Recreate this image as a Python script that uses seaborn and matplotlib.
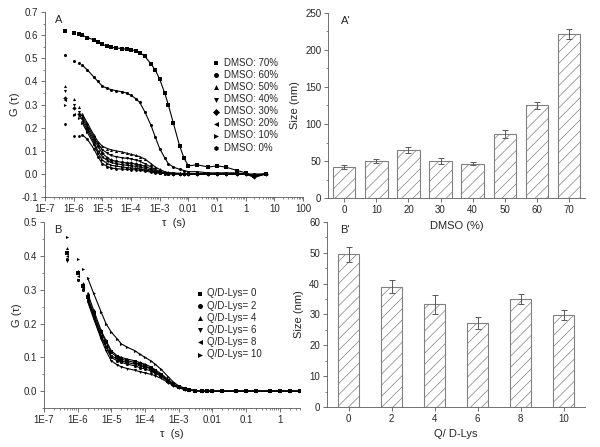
import numpy as np
import pandas as pd
import seaborn as sns
import matplotlib
matplotlib.use("Agg")
import matplotlib.pyplot as plt
from matplotlib.ticker import FixedLocator, LogLocator, MultipleLocator, NullFormatter

# ---- data ----
tau_a = [5e-7, 1e-6, 1.5e-6, 2e-6, 3e-6, 5e-6, 7e-6, 1e-5, 1.5e-5, 2e-5, 3e-5, 5e-5, 7e-5,
         1e-4, 1.5e-4, 2e-4, 3e-4, 5e-4, 7e-4, 1e-3, 1.5e-3, 2e-3, 3e-3, 5e-3, 7e-3,
         1e-2, 2e-2, 5e-2, 0.1, 0.2, 0.5, 1, 2, 5]

dmso_labels = ["DMSO: 70%", "DMSO: 60%", "DMSO: 50%", "DMSO: 40%",
               "DMSO: 30%", "DMSO: 20%", "DMSO: 10%", "DMSO: 0%"]
g_70 = [0.62, 0.61, 0.605, 0.60, 0.59, 0.58, 0.57, 0.56, 0.552, 0.548, 0.545, 0.542, 0.54,
        0.537, 0.532, 0.525, 0.51, 0.475, 0.45, 0.41, 0.35, 0.30, 0.22, 0.12, 0.07,
        0.035, 0.04, 0.03, 0.035, 0.03, 0.015, 0.005, -0.01, 0.0]
g_60 = [0.515, 0.49, 0.48, 0.47, 0.45, 0.42, 0.40, 0.38, 0.37, 0.365, 0.36, 0.355, 0.35,
        0.34, 0.325, 0.31, 0.27, 0.21, 0.16, 0.11, 0.07, 0.045, 0.03, 0.02, 0.015,
        0.01, 0.01, 0.005, 0.005, 0.005, 0.005, 0.0, 0.0, 0.0]
g_50 = [0.38, 0.325, 0.29, 0.26, 0.22, 0.17, 0.14, 0.12, 0.11, 0.105, 0.10, 0.095, 0.09,
        0.085, 0.08, 0.075, 0.065, 0.045, 0.03, 0.02, 0.01, 0.006, 0.004, 0.003, 0.002,
        0.002, 0.002, 0.001, 0.001, 0.0, 0.0, 0.0, -0.008, 0.0]
g_40 = [0.36, 0.30, 0.27, 0.25, 0.21, 0.16, 0.13, 0.105, 0.09, 0.08, 0.075, 0.07, 0.068,
        0.065, 0.06, 0.055, 0.045, 0.03, 0.02, 0.012, 0.006, 0.004, 0.003, 0.002, 0.001,
        0.001, 0.001, 0.0, 0.0, 0.0, 0.0, 0.0, -0.01, 0.0]
g_30 = [0.33, 0.285, 0.26, 0.24, 0.20, 0.15, 0.12, 0.09, 0.07, 0.06, 0.055, 0.05, 0.048,
        0.046, 0.043, 0.04, 0.034, 0.022, 0.014, 0.008, 0.004, 0.003, 0.002, 0.001, 0.001,
        0.0, 0.0, 0.0, 0.0, 0.0, 0.0, 0.0, -0.015, 0.0]
g_20 = [0.32, 0.26, 0.25, 0.23, 0.19, 0.14, 0.10, 0.075, 0.058, 0.05, 0.045, 0.04, 0.038,
        0.036, 0.033, 0.03, 0.025, 0.016, 0.01, 0.006, 0.003, 0.002, 0.001, 0.001, 0.0,
        0.0, 0.0, 0.0, 0.0, 0.0, 0.0, 0.0, -0.01, 0.0]
g_10 = [0.30, 0.255, 0.24, 0.22, 0.18, 0.13, 0.09, 0.06, 0.045, 0.038, 0.034, 0.03, 0.028,
        0.026, 0.024, 0.022, 0.018, 0.012, 0.007, 0.004, 0.002, 0.001, 0.001, 0.0, 0.0,
        0.0, 0.0, 0.0, 0.0, 0.0, 0.0, 0.0, -0.005, 0.0]
g_0 = [0.215, 0.165, 0.165, 0.17, 0.15, 0.11, 0.075, 0.045, 0.032, 0.026, 0.023, 0.021, 0.02,
       0.019, 0.018, 0.016, 0.013, 0.008, 0.005, 0.003, 0.002, 0.001, 0.0, 0.0, 0.0,
       0.0, 0.0, 0.0, 0.0, 0.0, 0.0, 0.0, -0.005, 0.0]
dmso_curves = [g_70, g_60, g_50, g_40, g_30, g_20, g_10, g_0]
dmso_markers = ["s", "o", "^", "v", "D", "<", ">", "h"]

tau_b = [5e-7, 1e-6, 1.5e-6, 2e-6, 3e-6, 5e-6, 7e-6, 1e-5, 1.5e-5, 2e-5, 3e-5, 5e-5, 7e-5,
         1e-4, 1.5e-4, 2e-4, 3e-4, 5e-4, 7e-4, 1e-3, 1.5e-3, 2e-3, 3e-3, 5e-3, 7e-3,
         1e-2, 2e-2, 5e-2, 0.1, 0.2, 0.5, 1, 2, 4]
lys_labels = ["Q/D-Lys= 0", "Q/D-Lys= 2", "Q/D-Lys= 4",
              "Q/D-Lys= 6", "Q/D-Lys= 8", "Q/D-Lys= 10"]
q_0 = [0.41, 0.35, 0.31, 0.28, 0.23, 0.175, 0.145, 0.115, 0.10, 0.095, 0.09, 0.085, 0.08,
       0.075, 0.068, 0.06, 0.048, 0.03, 0.02, 0.012, 0.007, 0.004, 0.002, 0.001, 0.0,
       0.0, 0.0, 0.0, 0.0, 0.0, 0.0, 0.0, 0.0, 0.0]
q_2 = [0.39, 0.33, 0.30, 0.27, 0.22, 0.16, 0.13, 0.10, 0.09, 0.085, 0.08, 0.075, 0.07,
       0.066, 0.06, 0.054, 0.044, 0.028, 0.018, 0.011, 0.006, 0.003, 0.002, 0.001, 0.0,
       0.0, 0.0, 0.0, 0.0, 0.0, 0.0, 0.0, 0.0, 0.0]
q_4 = [0.425, 0.355, 0.32, 0.29, 0.24, 0.18, 0.15, 0.12, 0.105, 0.10, 0.095, 0.09, 0.085,
       0.08, 0.072, 0.064, 0.052, 0.034, 0.022, 0.013, 0.007, 0.004, 0.002, 0.001, 0.0,
       0.0, 0.0, 0.0, 0.0, 0.0, 0.0, 0.0, 0.0, 0.0]
q_6 = [0.385, 0.33, 0.30, 0.265, 0.215, 0.155, 0.12, 0.09, 0.078, 0.072, 0.067, 0.062, 0.058,
       0.054, 0.05, 0.046, 0.038, 0.025, 0.016, 0.01, 0.005, 0.003, 0.001, 0.0, 0.0,
       0.0, 0.0, 0.0, 0.0, 0.0, 0.0, 0.0, 0.0, 0.0]
q_8 = [0.40, 0.34, 0.305, 0.275, 0.225, 0.165, 0.135, 0.105, 0.095, 0.09, 0.085, 0.08, 0.076,
       0.072, 0.066, 0.058, 0.046, 0.03, 0.019, 0.011, 0.006, 0.003, 0.002, 0.001, 0.0,
       0.0, 0.0, 0.0, 0.0, 0.0, 0.0, 0.0, 0.0, 0.0]
q_10 = [0.455, 0.39, 0.36, 0.335, 0.29, 0.235, 0.20, 0.175, 0.155, 0.14, 0.13, 0.12, 0.11,
        0.10, 0.09, 0.08, 0.065, 0.042, 0.027, 0.016, 0.009, 0.005, 0.002, 0.001, 0.0,
        0.0, 0.0, 0.0, 0.0, 0.0, 0.0, 0.0, 0.0, 0.0]
lys_curves = [q_0, q_2, q_4, q_6, q_8, q_10]
lys_markers = ["s", "o", "^", "v", "<", ">"]

dmso_cat = ["0", "10", "20", "30", "40", "50", "60", "70"]
dmso_size = [42, 50, 65, 50, 46, 86, 125, 222]
dmso_err = [2.5, 3, 4, 4.5, 2, 5.5, 5, 7]

lys_cat = ["0", "2", "4", "6", "8", "10"]
lys_size = [49.5, 39, 33.3, 27.2, 35, 29.8]
lys_err = [2.5, 2.2, 3, 2, 1.6, 1.6]

log_ticks = [1e-7, 1e-6, 1e-5, 1e-4, 1e-3, 1e-2, 1e-1, 1, 10, 100]
log_labels = ["1E-7", "1E-6", "1E-5", "1E-4", "1E-3", "0.01", "0.1", "1", "10", "100"]

# ---- style ----
sns.set_style("ticks")
plt.rcParams["font.family"] = ["Liberation Sans", "DejaVu Sans"]
plt.rcParams["font.size"] = 7
plt.rcParams["hatch.linewidth"] = 0.5
plt.rcParams["axes.linewidth"] = 0.6

fig = plt.figure(figsize=(6, 4.47), dpi=100)
ax_a = fig.add_axes([0.075, 0.559, 0.43, 0.414])
ax_a2 = fig.add_axes([0.547, 0.557, 0.428, 0.414])
ax_b = fig.add_axes([0.073, 0.087, 0.427, 0.416])
ax_b2 = fig.add_axes([0.545, 0.0895, 0.43, 0.414])
for ax in [ax_a, ax_a2, ax_b, ax_b2]:
    ax.patch.set_visible(False)

axis_col = "0.35"


def style_axes(ax):
    sns.despine(ax=ax)
    for s in ["left", "bottom"]:
        ax.spines[s].set_color(axis_col)
    ax.tick_params(which="major", direction="out", length=3, width=0.6,
                   color=axis_col, labelsize=7, pad=2, labelcolor="0.15")
    ax.tick_params(which="minor", direction="out", length=1.5, width=0.5, color=axis_col)


def corr_panel(ax, tau, curves, labels, markers, xmax, ylim, ystep, letter, leg_anchor):
    for vals, lab, m in zip(curves, labels, markers):
        sns.lineplot(x=tau[3:], y=vals[3:], color="black", linewidth=0.8, ax=ax)
        sns.scatterplot(x=tau, y=vals, marker=m, color="black", s=5, linewidth=0,
                        label=lab, ax=ax)
    ax.set_xscale("log")
    ax.set_xlim(1e-7, xmax)
    ax.set_ylim(*ylim)
    ax.xaxis.set_major_locator(FixedLocator(log_ticks))
    ax.set_xticklabels(log_labels)
    ax.xaxis.set_minor_locator(LogLocator(base=10, subs=np.arange(2, 10), numticks=20))
    ax.xaxis.set_minor_formatter(NullFormatter())
    ax.yaxis.set_major_locator(MultipleLocator(ystep))
    ax.yaxis.set_minor_locator(MultipleLocator(ystep / 2))
    ax.yaxis.set_major_formatter(plt.FuncFormatter(lambda v, p: f"{v:.1f}"))
    ax.set_xlabel("τ  (s)", fontsize=8, labelpad=3)
    ax.set_ylabel("G (τ)", fontsize=8, labelpad=1)
    ax.text(0.04, 0.985, letter, transform=ax.transAxes, fontsize=8, va="top")
    handles, labs = ax.get_legend_handles_labels()
    ax.legend(handles, labs, loc="upper left", bbox_to_anchor=leg_anchor, frameon=False,
              fontsize=7, markerscale=1.6, handletextpad=0.3, labelspacing=0.22,
              handlelength=1.0, borderpad=0)
    style_axes(ax)


def bar_panel(ax, cats, sizes, errs, width, ylim, ystep, xlabel, letter):
    sns.barplot(x=cats, y=sizes, color="white", edgecolor="0.5", linewidth=0.8,
                width=width, ax=ax)
    for p in ax.patches:
        p.set_hatch("///")
    ax.errorbar(np.arange(len(cats)), sizes, yerr=errs, fmt="none", ecolor="0.35",
                elinewidth=0.7, capsize=2, capthick=0.7)
    ax.set_xlim(-0.5, len(cats) - 0.5)
    ax.set_ylim(*ylim)
    ax.yaxis.set_major_locator(MultipleLocator(ystep))
    ax.yaxis.set_minor_locator(MultipleLocator(ystep / 2))
    ax.set_xlabel(xlabel, fontsize=8, labelpad=4)
    ax.set_ylabel("Size (nm)", fontsize=8, labelpad=4)
    ax.text(0.05, 0.985, letter, transform=ax.transAxes, fontsize=8, va="top")
    style_axes(ax)


corr_panel(ax_a, tau_a, dmso_curves, dmso_labels, dmso_markers, 100, (-0.1, 0.7), 0.1,
           "A", (0.625, 0.78))
corr_panel(ax_b, tau_b, lys_curves, lys_labels, lys_markers, 4, (-0.05, 0.5), 0.1,
           "B", (0.57, 0.67))
bar_panel(ax_a2, dmso_cat, dmso_size, dmso_err, 0.7, (0, 250), 50, "DMSO (%)", "A'")
bar_panel(ax_b2, lys_cat, lys_size, lys_err, 0.5, (0, 60), 10, "Q/ D-Lys", "B'")

fig.savefig("out.png", dpi=100)
